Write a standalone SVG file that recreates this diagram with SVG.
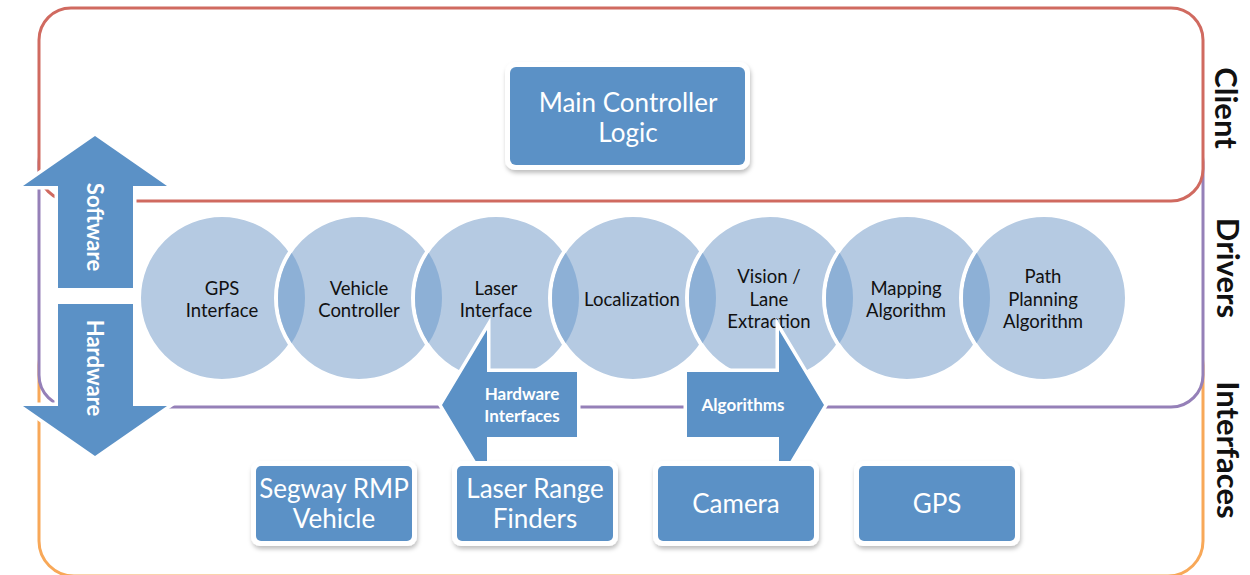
<svg xmlns="http://www.w3.org/2000/svg" width="1250" height="575" viewBox="0 0 1250 575">
  <defs>
    <style>
      .layer { fill: #ffffff; stroke-width: 3; }
      .circ { fill: #b5cae2; stroke: #ffffff; stroke-width: 4; }
      .lens { fill: #8db0d6; }
      .ctext { font-family: Lato, "Open Sans", sans-serif; font-size: 18.5px; fill: #111111; text-anchor: middle; }
      .arrow { fill: #5b91c6; stroke: #ffffff; stroke-width: 7; paint-order: stroke; stroke-linejoin: miter; }
      .atext { font-family: Lato, "Open Sans", sans-serif; font-weight: bold; fill: #ffffff; text-anchor: middle; }
      .frame { fill: #ffffff; filter: url(#shadow); }
      .box { fill: #5b91c6; }
      .btext { font-family: Lato, "Open Sans", sans-serif; font-size: 26px; fill: #ffffff; text-anchor: middle; }
      .tier { font-family: Lato, "Open Sans", sans-serif; font-weight: bold; font-size: 31px; fill: #111111; text-anchor: middle; }
    </style>
    <filter id="shadow" x="-10%" y="-10%" width="120%" height="130%">
      <feDropShadow dx="1" dy="3" stdDeviation="2" flood-color="#000000" flood-opacity="0.25"/>
    </filter>
    <clipPath id="c2"><circle cx="359" cy="298" r="81"/></clipPath>
    <clipPath id="c3"><circle cx="496" cy="298" r="81"/></clipPath>
    <clipPath id="c4"><circle cx="633" cy="298" r="81"/></clipPath>
    <clipPath id="c5"><circle cx="770" cy="298" r="81"/></clipPath>
    <clipPath id="c6"><circle cx="907" cy="298" r="81"/></clipPath>
    <clipPath id="c7"><circle cx="1044" cy="298" r="81"/></clipPath>
  </defs>

  <!-- tier frames, back to front -->
  <g id="tier-interfaces">
    <rect class="layer" x="39" y="330" width="1164" height="246" rx="35" stroke="#f8a858"/>
  </g>
  <g id="tier-drivers">
    <rect class="layer" x="39" y="130" width="1164" height="277" rx="32" stroke="#9580b8"/>
  </g>
  <g id="tier-client">
    <rect class="layer" x="39" y="8" width="1164" height="193" rx="32" stroke="#d06a60"/>
  </g>

  <!-- tier labels -->
  <g id="tier-labels">
    <text class="tier" transform="translate(1215,108) rotate(90)">Client</text>
    <text class="tier" transform="translate(1217,268) rotate(90)">Drivers</text>
    <text class="tier" transform="translate(1217,450) rotate(90)">Interfaces</text>
  </g>

  <!-- software / hardware double arrow -->
  <g id="software-arrow">
    <path class="arrow" d="M95,136 L167,186 L133,186 L133,288 L58,288 L58,186 L23,186 Z"/>
    <text class="atext" font-size="22" transform="translate(87,227) rotate(90)">Software</text>
  </g>
  <g id="hardware-arrow">
    <path class="arrow" d="M58,304 L133,304 L133,406 L167,406 L95,456 L23,406 L58,406 Z"/>
    <text class="atext" font-size="22" transform="translate(87,368) rotate(90)">Hardware</text>
  </g>

  <!-- driver circles -->
  <g id="drivers">
    <circle id="gps-interface" class="circ" cx="222" cy="298" r="83"/>
    <circle id="vehicle-controller" class="circ" cx="359" cy="298" r="83"/>
    <circle id="laser-interface" class="circ" cx="496" cy="298" r="83"/>
    <circle id="localization" class="circ" cx="633" cy="298" r="83"/>
    <circle id="vision" class="circ" cx="770" cy="298" r="83"/>
    <circle id="mapping" class="circ" cx="907" cy="298" r="83"/>
    <circle id="path-planning" class="circ" cx="1044" cy="298" r="83"/>
    <!-- overlaps -->
    <circle class="lens" cx="222" cy="298" r="83" clip-path="url(#c2)"/>
    <circle class="lens" cx="359" cy="298" r="83" clip-path="url(#c3)"/>
    <circle class="lens" cx="496" cy="298" r="83" clip-path="url(#c4)"/>
    <circle class="lens" cx="633" cy="298" r="83" clip-path="url(#c5)"/>
    <circle class="lens" cx="770" cy="298" r="83" clip-path="url(#c6)"/>
    <circle class="lens" cx="907" cy="298" r="83" clip-path="url(#c7)"/>
    <text class="ctext" x="222" y="295">GPS</text>
    <text class="ctext" x="222" y="317">Interface</text>
    <text class="ctext" x="359" y="295">Vehicle</text>
    <text class="ctext" x="359" y="317">Controller</text>
    <text class="ctext" x="496" y="295">Laser</text>
    <text class="ctext" x="496" y="317">Interface</text>
    <text class="ctext" x="632" y="306">Localization</text>
    <text class="ctext" x="769" y="283">Vision /</text>
    <text class="ctext" x="769" y="305.5">Lane</text>
    <text class="ctext" x="769" y="328">Extraction</text>
    <text class="ctext" x="906" y="295">Mapping</text>
    <text class="ctext" x="906" y="317">Algorithm</text>
    <text class="ctext" x="1043" y="283">Path</text>
    <text class="ctext" x="1043" y="305.5">Planning</text>
    <text class="ctext" x="1043" y="328">Algorithm</text>
  </g>

  <!-- connectors between layers -->
  <g id="connectors">
    <g id="hardware-interfaces">
      <path class="arrow" d="M442,405 L487,330 L487,372 L577,372 L577,437 L487,437 L487,480 Z"/>
      <text class="atext" font-size="17" x="522" y="400">Hardware</text>
      <text class="atext" font-size="17" x="522" y="422">Interfaces</text>
    </g>
    <g id="algorithms">
      <path class="arrow" d="M687,372 L779,372 L779,330 L824,405 L779,480 L779,437 L687,437 Z"/>
      <text class="atext" font-size="17" x="743" y="411">Algorithms</text>
    </g>
  </g>

  <!-- client -->
  <g id="main-controller">
    <rect class="frame" x="505" y="62" width="245" height="108" rx="10"/>
    <rect class="box" x="510" y="67" width="235" height="98" rx="6"/>
    <text class="btext" x="628" y="112">Main Controller</text>
    <text class="btext" x="628" y="142">Logic</text>
  </g>

  <!-- hardware devices -->
  <g id="segway">
    <rect class="frame" x="251" y="461" width="166" height="85" rx="9"/>
    <rect class="box" x="256" y="466" width="156" height="75" rx="5"/>
    <text class="btext" x="334" y="498">Segway RMP</text>
    <text class="btext" x="334" y="528">Vehicle</text>
  </g>
  <g id="laser-range-finders">
    <rect class="frame" x="452" y="461" width="166" height="85" rx="9"/>
    <rect class="box" x="457" y="466" width="156" height="75" rx="5"/>
    <text class="btext" x="535" y="498">Laser Range</text>
    <text class="btext" x="535" y="528">Finders</text>
  </g>
  <g id="camera">
    <rect class="frame" x="653" y="461" width="166" height="85" rx="9"/>
    <rect class="box" x="658" y="466" width="156" height="75" rx="5"/>
    <text class="btext" x="736" y="513">Camera</text>
  </g>
  <g id="gps">
    <rect class="frame" x="854" y="461" width="166" height="85" rx="9"/>
    <rect class="box" x="859" y="466" width="156" height="75" rx="5"/>
    <text class="btext" x="937" y="513">GPS</text>
  </g>
</svg>
